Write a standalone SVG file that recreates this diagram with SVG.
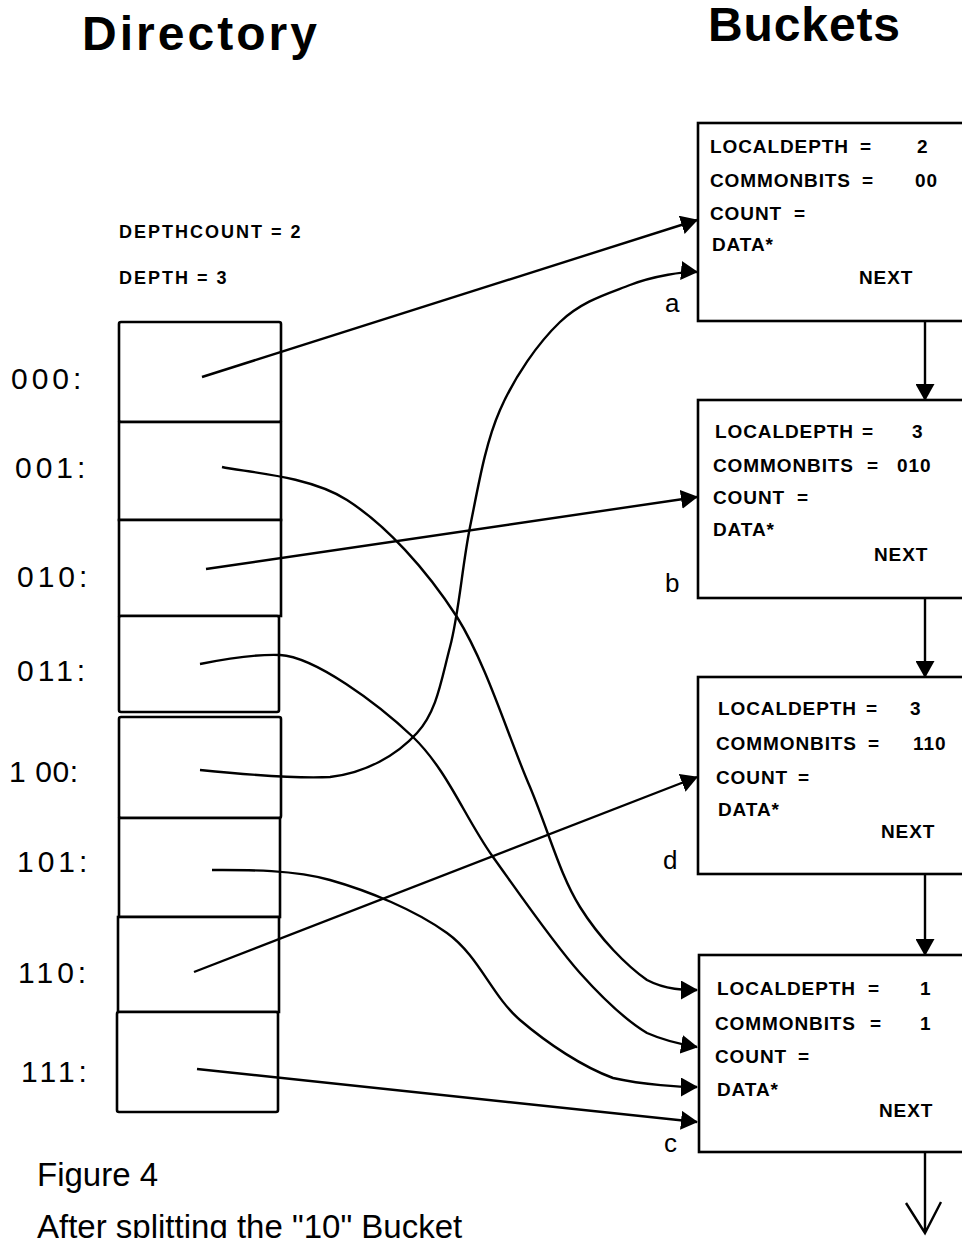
<svg xmlns="http://www.w3.org/2000/svg" width="962" height="1238" viewBox="0 0 962 1238">
  <style>
    .title { font-family: "Liberation Sans", Arial, sans-serif; font-weight: bold; font-size: 48px; fill: #000; }
    .hdr { font-family: "Liberation Sans", Arial, sans-serif; font-weight: bold; font-size: 18px; letter-spacing: 2px; fill: #000; }
    .row { font-family: "Liberation Sans", Arial, sans-serif; font-size: 30px; letter-spacing: 4px; fill: #000; }
    .fld { font-family: "Liberation Sans", Arial, sans-serif; font-weight: bold; font-size: 19px; letter-spacing: 0.9px; fill: #000; }
    .tag { font-family: "Liberation Sans", Arial, sans-serif; font-size: 26px; fill: #000; }
    .cap { font-family: "Liberation Sans", Arial, sans-serif; font-size: 33px; fill: #000; }
    .cell { fill: #fff; stroke: #000; stroke-width: 2.6; }
    .box { fill: #fff; stroke: #000; stroke-width: 2.6; }
    .wire { fill: none; stroke: #000; stroke-width: 2.4; marker-end: url(#head); }
    .plain { fill: none; stroke: #000; stroke-width: 2.4; }
  </style>
  <defs>
    <marker id="head" markerUnits="userSpaceOnUse" markerWidth="17" markerHeight="19" viewBox="0 0 17 19" refX="16" refY="9.5" orient="auto">
      <path d="M0,0 L17,9.5 L0,19 Z" fill="#000"/>
    </marker>
  </defs>

  <rect width="962" height="1238" fill="#fff"/>

  <!-- column headings -->
  <text class="title" x="82" y="50" textLength="235" lengthAdjust="spacing">Directory</text>
  <text class="title" x="708" y="41" textLength="192" lengthAdjust="spacing">Buckets</text>

  <!-- directory header values -->
  <g id="dir-header">
    <text class="hdr" x="119" y="238">DEPTHCOUNT = 2</text>
    <text class="hdr" x="119" y="284">DEPTH = 3</text>
  </g>

  <!-- directory: two stacked blocks of four slots -->
  <g id="directory">
    <g id="slot-000"><rect class="cell" x="119" y="322" width="162" height="100" rx="2"/><text class="row" x="11" y="389">000:</text></g>
    <g id="slot-001"><rect class="cell" x="119" y="422" width="162" height="98"/><text class="row" x="15" y="478">001:</text></g>
    <g id="slot-010"><rect class="cell" x="119" y="520" width="162" height="96"/><text class="row" x="17" y="587">010:</text></g>
    <g id="slot-011"><rect class="cell" x="119" y="616" width="160" height="96" rx="2"/><text class="row" x="17" y="681">011:</text></g>
    <g id="slot-100"><rect class="cell" x="119" y="717" width="162" height="101" rx="2"/><text class="row" x="9" y="782" textLength="73" lengthAdjust="spacing">1 00:</text></g>
    <g id="slot-101"><rect class="cell" x="119" y="818" width="161" height="99"/><text class="row" x="17" y="872">101:</text></g>
    <g id="slot-110"><rect class="cell" x="118" y="917" width="161" height="95"/><text class="row" x="18" y="983">110:</text></g>
    <g id="slot-111"><rect class="cell" x="117" y="1012" width="161" height="100" rx="2"/><text class="row" x="21" y="1082">111:</text></g>
  </g>

  <!-- buckets -->
  <g id="bucket-a">
    <rect class="box" x="698" y="123" width="300" height="198"/>
    <text class="fld" x="710" y="153">LOCALDEPTH</text><text class="fld" x="860" y="153">=</text><text class="fld" x="917" y="153">2</text>
    <text class="fld" x="710" y="187">COMMONBITS</text><text class="fld" x="862" y="187">=</text><text class="fld" x="915" y="187">00</text>
    <text class="fld" x="710" y="220">COUNT</text><text class="fld" x="794" y="220">=</text>
    <text class="fld" x="712" y="251">DATA*</text>
    <text class="fld" x="859" y="284">NEXT</text>
    <text class="tag" x="665" y="312">a</text>
  </g>
  <g id="bucket-b">
    <rect class="box" x="698" y="400" width="300" height="198"/>
    <text class="fld" x="715" y="438">LOCALDEPTH</text><text class="fld" x="862" y="438">=</text><text class="fld" x="912" y="438">3</text>
    <text class="fld" x="713" y="472">COMMONBITS</text><text class="fld" x="867" y="472">=</text><text class="fld" x="897" y="472">010</text>
    <text class="fld" x="713" y="504">COUNT</text><text class="fld" x="797" y="504">=</text>
    <text class="fld" x="713" y="536">DATA*</text>
    <text class="fld" x="874" y="561">NEXT</text>
    <text class="tag" x="665" y="592">b</text>
  </g>
  <g id="bucket-d">
    <rect class="box" x="698" y="677" width="300" height="197"/>
    <text class="fld" x="718" y="715">LOCALDEPTH</text><text class="fld" x="866" y="715">=</text><text class="fld" x="910" y="715">3</text>
    <text class="fld" x="716" y="750">COMMONBITS</text><text class="fld" x="868" y="750">=</text><text class="fld" x="913" y="750">110</text>
    <text class="fld" x="716" y="784">COUNT</text><text class="fld" x="798" y="784">=</text>
    <text class="fld" x="718" y="816">DATA*</text>
    <text class="fld" x="881" y="838">NEXT</text>
    <text class="tag" x="663" y="869">d</text>
  </g>
  <g id="bucket-c">
    <rect class="box" x="699" y="955" width="300" height="197"/>
    <text class="fld" x="717" y="995">LOCALDEPTH</text><text class="fld" x="868" y="995">=</text><text class="fld" x="920" y="995">1</text>
    <text class="fld" x="715" y="1030">COMMONBITS</text><text class="fld" x="870" y="1030">=</text><text class="fld" x="920" y="1030">1</text>
    <text class="fld" x="715" y="1063">COUNT</text><text class="fld" x="798" y="1063">=</text>
    <text class="fld" x="717" y="1096">DATA*</text>
    <text class="fld" x="879" y="1117">NEXT</text>
    <text class="tag" x="664" y="1152">c</text>
  </g>

  <!-- pointers from directory slots to buckets, and NEXT chain -->
  <g id="connectors">
    <path class="wire" d="M202,377 L697,220"/>
    <path class="wire" d="M222,467 C243,472 308,475 347,500 C386,525 426,569 457,617 C487,665 509,739 530,787 C550,835 560,875 580,907 C600,939 627,966 647,980 C666,990 685,990 697,990"/>
    <path class="wire" d="M206,569 L697,497"/>
    <path class="wire" d="M200,664 C230,658 255,654 280,655 C315,657 377,703 413,737 C448,771 465,818 493,857 C521,896 554,944 580,973 C606,1002 627,1021 647,1033 C665,1041 685,1045 697,1047"/>
    <path class="wire" d="M200,770 C240,774 295,779 330,777 C366,773 397,755 417,733 C437,711 441,681 450,647 C459,613 462,567 470,527 C478,488 485,444 500,410 C515,376 538,343 560,322 C582,301 607,294 630,285 C653,276 686,271 697,272"/>
    <path class="wire" d="M212,870 C240,870 291,869 330,880 C369,891 415,910 447,933 C479,956 492,996 520,1020 C548,1044 583,1067 613,1078 C645,1085 680,1087 697,1087"/>
    <path class="wire" d="M194,972 L697,777"/>
    <path class="wire" d="M197,1069 L697,1122"/>
    <path class="wire" d="M925,322 L925,400"/>
    <path class="wire" d="M925,598 L925,677"/>
    <path class="wire" d="M925,874 L925,955"/>
    <path class="plain" d="M925,1152 L925,1233 M906,1203 L925,1233 L941,1202"/>
  </g>

  <!-- caption -->
  <text class="cap" x="37" y="1186">Figure 4</text>
  <text class="cap" x="37" y="1238">After splitting the "10" Bucket</text>
</svg>
